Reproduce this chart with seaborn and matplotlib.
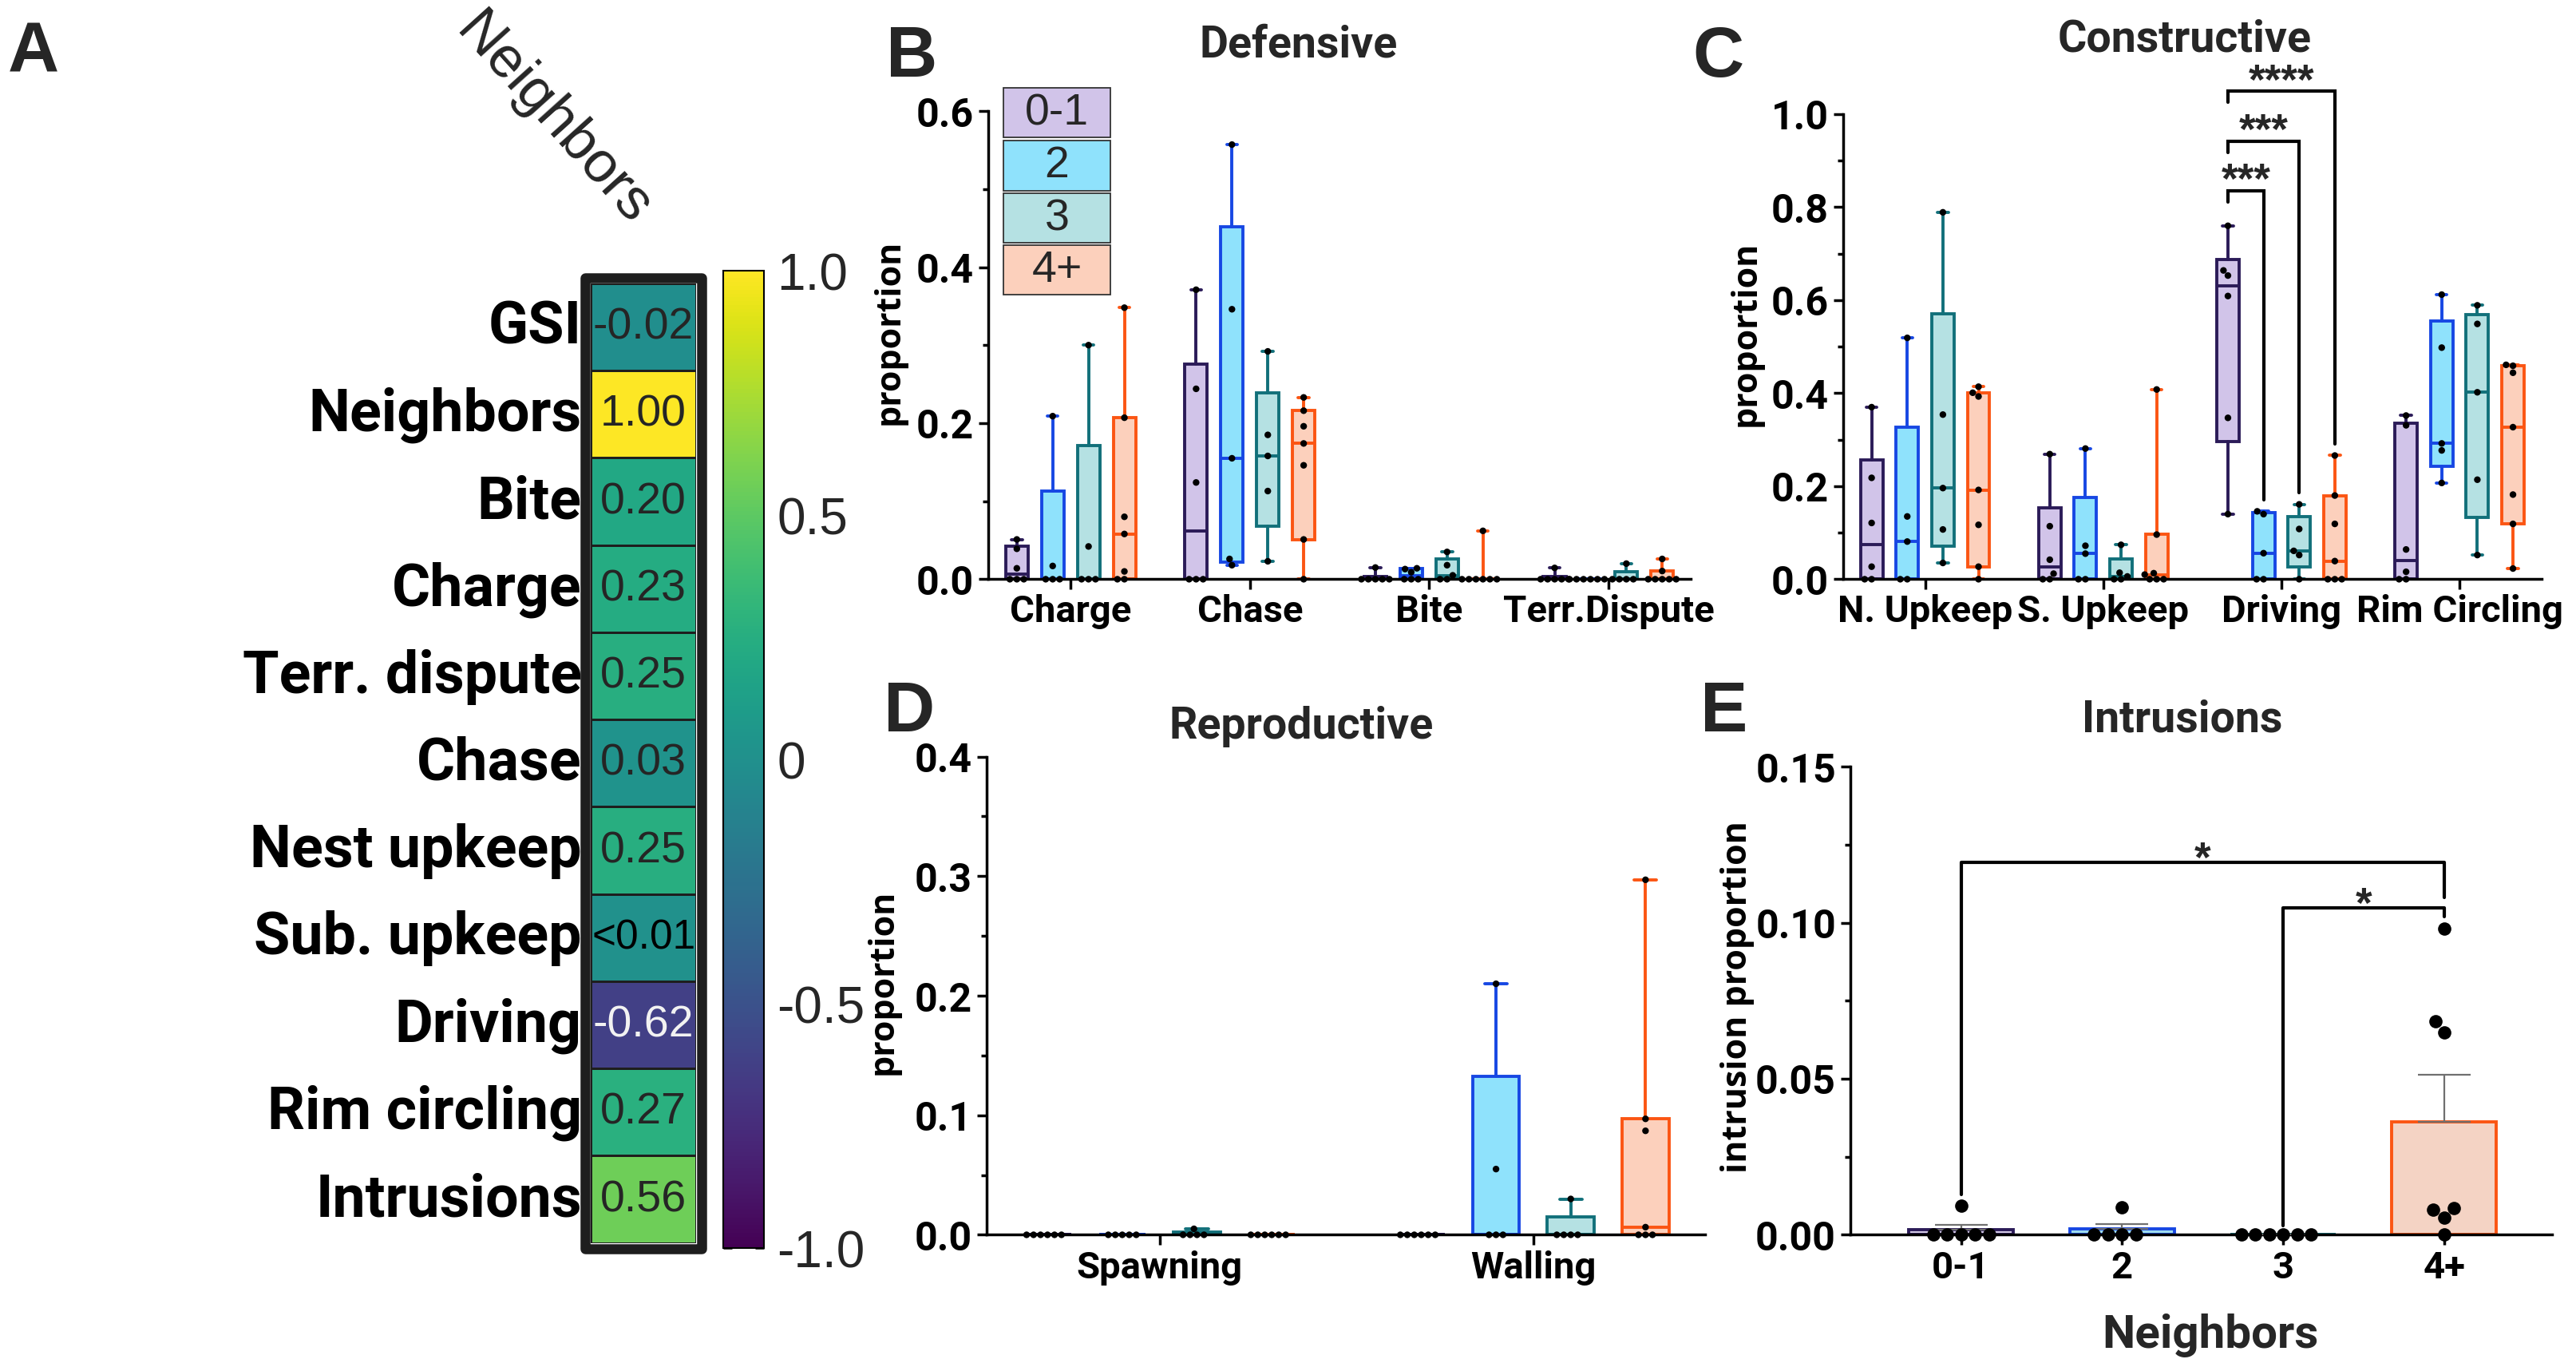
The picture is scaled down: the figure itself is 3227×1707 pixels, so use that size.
import numpy as np
import pandas as pd
import matplotlib
matplotlib.use("Agg")
import matplotlib.pyplot as plt
import seaborn as sns
from matplotlib.patches import Rectangle
from matplotlib.ticker import MultipleLocator, FormatStrFormatter

# SETTINGS
sns.set_theme(style="ticks")
COND = ["Liberation Sans Narrow", "Roboto", "DejaVu Sans"]
PLAIN = ["Liberation Sans", "DejaVu Sans"]
YLAB = ["Open Sans", "DejaVu Sans"]
plt.rcParams["font.family"] = COND

# DATA
groups = ["0-1", "2", "3", "4+"]
edge_colors = ["#2b1b58", "#1747e3", "#12707a", "#fb5513"]
fill_colors = ["#d1c4e9", "#8fe2fc", "#b5e1e3", "#fcd0bc"]

# panel A: correlation with number of neighbors
heat_rows = ["GSI", "Neighbors", "Bite", "Charge", "Terr. dispute", "Chase",
             "Nest upkeep", "Sub. upkeep", "Driving", "Rim circling", "Intrusions"]
heat_vals = [-0.02, 1.00, 0.20, 0.23, 0.25, 0.03, 0.25, 0.005, -0.62, 0.27, 0.56]
heat_text = ["-0.02", "1.00", "0.20", "0.23", "0.25", "0.03", "0.25", "<0.01",
             "-0.62", "0.27", "0.56"]

# panel B: defensive behaviors (one list per neighbor group)
defensive_cats = ["Charge", "Chase", "Bite", "Terr.Dispute"]
charge = [[0, 0, 0, 0.014, 0.039, 0.051], [0, 0, 0, 0.017, 0.209],
          [0, 0, 0, 0.042, 0.300], [0, 0, 0.010, 0.058, 0.080, 0.207, 0.348]]
chase = [[0, 0, 0, 0.124, 0.244, 0.371], [0.018, 0.026, 0.155, 0.346, 0.557],
         [0.023, 0.113, 0.158, 0.185, 0.292], [0, 0.051, 0.146, 0.174, 0.196, 0.216, 0.233]]
bite = [[0, 0, 0, 0, 0, 0.015], [0, 0, 0, 0.009, 0.013, 0.014],
        [0, 0, 0.005, 0.018, 0.035], [0, 0, 0, 0, 0, 0, 0.062]]
terr_dispute = [[0, 0, 0, 0, 0, 0.0145], [0, 0, 0, 0, 0, 0],
                [0, 0, 0, 0, 0.020], [0, 0, 0, 0, 0, 0.0105, 0.026]]

# panel C: constructive behaviors
constructive_cats = ["N. Upkeep", "S. Upkeep", "Driving", "Rim Circling"]
n_upkeep = [[0, 0, 0.027, 0.121, 0.218, 0.370], [0, 0, 0.081, 0.135, 0.519],
            [0.035, 0.107, 0.196, 0.354, 0.789], [0, 0.027, 0.117, 0.192, 0.393, 0.401, 0.414]]
s_upkeep = [[0, 0, 0.012, 0.042, 0.114, 0.269], [0, 0, 0.055, 0.072, 0.281],
            [0, 0, 0.006, 0.014, 0.074], [0, 0, 0, 0.010, 0.013, 0.096, 0.408]]
driving = [[0.140, 0.347, 0.609, 0.653, 0.664, 0.760], [0, 0, 0.056, 0.140, 0.146],
           [0, 0.052, 0.061, 0.108, 0.161], [0, 0, 0, 0.039, 0.119, 0.180, 0.266]]
rim_circling = [[0, 0, 0.016, 0.064, 0.331, 0.352], [0.207, 0.277, 0.292, 0.498, 0.612],
                [0.052, 0.214, 0.402, 0.549, 0.589], [0.023, 0.119, 0.182, 0.327, 0.444, 0.459, 0.461]]
driving_stars = ["***", "***", "****"]

# panel D: reproductive behaviors
reproductive_cats = ["Spawning", "Walling"]
spawning = [[0, 0, 0, 0, 0, 0], [0, 0, 0, 0, 0], [0, 0, 0, 0, 0.005], [0, 0, 0, 0, 0, 0]]
walling = [[0, 0, 0, 0, 0, 0], [0, 0, 0, 0.055, 0.210], [0, 0, 0, 0, 0.030],
           [0, 0, 0, 0.0064, 0.087, 0.097, 0.297]]

# panel E: intrusions
intrusions = [[0.0092, 0, 0, 0, 0, 0], [0.0089, 0, 0, 0, 0], [0, 0, 0, 0, 0, 0],
              [0.0982, 0.0683, 0.0649, 0.0086, 0.008, 0.0055, 0]]


def to_long(cats, series):
    rows = []
    for cat, per_group in zip(cats, series):
        for g, vals in zip(groups, per_group):
            for v in vals:
                rows.append((cat, g, v))
    return pd.DataFrame(rows, columns=["behavior", "neighbors", "proportion"])


def style_axis(ax, ymax, major, minor, ylabel, label_x, label_y=0.53):
    sns.despine(ax=ax)
    for s in ["left", "bottom"]:
        ax.spines[s].set_linewidth(2.5)
        ax.spines[s].set_color("black")
    ax.set_ylim(0, ymax)
    ax.yaxis.set_major_locator(MultipleLocator(major))
    ax.yaxis.set_minor_locator(MultipleLocator(minor))
    ax.tick_params(axis="both", which="major", width=2.5, length=9, pad=4,
                   color="black", labelcolor="black")
    ax.tick_params(axis="y", which="major", labelsize=36)
    ax.tick_params(axis="x", which="major", labelsize=34)
    ax.tick_params(axis="y", which="minor", width=2.5, length=5, color="black", left=True)
    for lab in ax.get_xticklabels() + ax.get_yticklabels():
        lab.set_fontweight("bold")
    ax.set_ylabel(ylabel, fontsize=31, fontweight="bold", family=YLAB, color="black")
    ax.yaxis.set_label_coords(label_x, label_y)
    ax.set_xlabel("")


def box_panel(ax, cats, series):
    df = to_long(cats, series)
    for h, g in enumerate(groups):
        stats = []
        for per_group in series:
            v = np.array(per_group[h], dtype=float)
            q1, med, q3 = np.percentile(v, [25, 50, 75], method="weibull")
            stats.append(dict(med=med, q1=q1, q3=q3, whislo=v.min(), whishi=v.max(), fliers=[]))
        pos = np.arange(len(cats)) + (h - 1.5) * 0.2
        lp = dict(color=edge_colors[h], linewidth=2.8)
        ax.bxp(stats, positions=pos, widths=0.125, capwidths=0.06, patch_artist=True,
               showfliers=False, manage_ticks=False,
               boxprops=dict(facecolor=fill_colors[h], edgecolor=edge_colors[h], linewidth=2.8),
               medianprops=lp, whiskerprops=lp, capprops=lp)
    sns.swarmplot(data=df, x="behavior", y="proportion", hue="neighbors", order=cats,
                  hue_order=groups, dodge=True, palette=["black"] * 4, size=6,
                  legend=False, ax=ax, zorder=5, clip_on=False, warn_thresh=1)
    ax.set_xlim(-0.46, len(cats) - 1 + 0.46)
    ax.set_xticks(range(len(cats)))
    ax.set_xticklabels(cats)
    return df


def stars(ax, x, y, txt):
    ax.text(x, y, txt, ha="center", va="baseline", fontsize=38, fontweight="bold",
            family=PLAIN, clip_on=False)


fig = plt.figure(figsize=(32.27, 17.08), dpi=100)

# PANEL A - heatmap
axA = fig.add_axes([0.2293, 0.088, 0.041, 0.7036])
cax = fig.add_axes([0.2807, 0.0843, 0.0158, 0.7167])
heat_df = pd.DataFrame({"Neighbors": heat_vals}, index=heat_rows)
sns.heatmap(heat_df, ax=axA, cbar_ax=cax, cmap="viridis", vmin=-1, vmax=1,
            annot=np.array(heat_text).reshape(-1, 1), fmt="",
            annot_kws=dict(fontsize=40, color="#252525", family=PLAIN),
            linewidths=2, linecolor="#1e1e1e", xticklabels=False)
axA.set_ylabel("")
axA.tick_params(left=False, pad=2)
axA.set_yticklabels(heat_rows, rotation=0, fontsize=53, fontweight="bold", color="black")
for t in axA.texts:
    if t.get_text() == "-0.62":
        t.set_color("#f2f2f2")
    if t.get_text() == "<0.01":
        t.set_color("black")
        t.set_fontsize(37)
fig.add_artist(Rectangle((0.2271, 0.0838), 0.0453, 0.712, transform=fig.transFigure,
                         fill=False, lw=9, ec="#1e1e1e", joinstyle="round", zorder=10))
cbar = axA.collections[0].colorbar
cbar.set_ticks([-1, -0.5, 0, 0.5, 1])
cbar.set_ticklabels(["-1.0", "-0.5", "0", "0.5", "1.0"])
cax.tick_params(labelsize=46, direction="in", length=8, width=2, left=True, right=True, pad=12)
for lab in cax.get_yticklabels():
    lab.set_family(PLAIN)
cbar.outline.set_linewidth(1.5)
cbar.outline.set_edgecolor("black")
fig.text(0.2145, 0.912, "Neighbors", rotation=-48, ha="center", va="center",
         fontsize=52, family=PLAIN, rotation_mode="anchor")

# PANEL B - defensive
axB = fig.add_axes([0.3836, 0.5747, 0.2728, 0.3433])
box_panel(axB, defensive_cats, [charge, chase, bite, terr_dispute])
style_axis(axB, 0.6, 0.2, 0.1, "proportion", -0.116)
# legend drawn as labelled boxes
leg_y = [(0.943, 1.05), (0.830, 0.937), (0.719, 0.824), (0.607, 0.713)]
for g, fc, (y0, y1) in zip(groups, fill_colors, leg_y):
    axB.add_patch(Rectangle((0.0215, y0), 0.1525, y1 - y0, transform=axB.transAxes,
                            fc=fc, ec="#333333", lw=1.3, clip_on=False, zorder=6))
    axB.text(0.0978, (y0 + y1) / 2, g, transform=axB.transAxes, ha="center", va="center",
             fontsize=40, family=PLAIN, zorder=7)

# PANEL C - constructive
axC = fig.add_axes([0.7155, 0.5747, 0.2711, 0.341])
box_panel(axC, constructive_cats, [n_upkeep, s_upkeep, driving, rim_circling])
style_axis(axC, 1.0, 0.2, 0.1, "proportion", -0.115)
drv = constructive_cats.index("Driving")
left_x = drv - 0.3
bracket_top = [0.835, 0.942, 1.049]
right_bottom = [0.171, 0.186, 0.291]
for k, (top, rb, st) in enumerate(zip(bracket_top, right_bottom, driving_stars)):
    right_x = drv + (k + 1 - 1.5) * 0.2
    axC.plot([left_x, left_x, right_x, right_x], [top - 0.024, top, top, rb],
             color="black", lw=3, clip_on=False, solid_joinstyle="miter")
    stars(axC, (left_x + right_x) / 2, top - 0.004, st)

# PANEL D - reproductive
axD = fig.add_axes([0.383, 0.094, 0.279, 0.3506])
box_panel(axD, reproductive_cats, [spawning, walling])
axD.set_xlim(-0.463, 1.46)
style_axis(axD, 0.4, 0.1, 0.05, "proportion", -0.12)

# PANEL E - intrusions
axE = fig.add_axes([0.7183, 0.094, 0.2724, 0.3433])
df_e = to_long(["Intrusions"], [intrusions])
sns.barplot(data=df_e, x="neighbors", y="proportion", hue="neighbors", order=groups,
            hue_order=groups, palette=fill_colors, errorbar=None, width=0.65,
            legend=False, ax=axE, linewidth=2.8)
for patch, ec in zip(axE.patches, edge_colors):
    patch.set_edgecolor(ec)
means = np.array([np.mean(v) for v in intrusions])
sems = np.array([np.std(v, ddof=1) / np.sqrt(len(v)) for v in intrusions])
axE.errorbar(range(4), means, yerr=[np.zeros(4), sems], fmt="none", ecolor="#707070",
             elinewidth=1.6, capsize=24, capthick=1.6, zorder=4)
sns.swarmplot(data=df_e, x="neighbors", y="proportion", order=groups, color="black",
              size=12, ax=axE, zorder=5, clip_on=False, warn_thresh=1)
axE.set_xlim(-0.687, 3.67)
style_axis(axE, 0.15, 0.05, 0.025, "intrusion proportion", -0.137, 0.51)
axE.yaxis.set_major_formatter(FormatStrFormatter("%.2f"))
for lab in axE.get_yticklabels():
    lab.set_fontweight("bold")
# significance brackets
axE.plot([0, 0, 3, 3], [0.0128, 0.1194, 0.1194, 0.108], color="black", lw=3, clip_on=False)
stars(axE, 1.5, 0.1165, "*")
axE.plot([2, 2, 3, 3], [0.003, 0.1048, 0.1048, 0.102], color="black", lw=3, clip_on=False)
stars(axE, 2.5, 0.1019, "*")
fig.text(0.858, 0.0205, "Neighbors", ha="center", va="center", fontsize=42, fontweight="bold")

# TITLES AND PANEL LETTERS
titles = [("Defensive", 0.504, 0.967), ("Constructive", 0.848, 0.971),
          ("Reproductive", 0.505, 0.4675), ("Intrusions", 0.847, 0.4723)]
for txt, x, y in titles:
    fig.text(x, y, txt, ha="center", va="center", fontsize=40, fontweight="bold")
letters = [("A", 0.003, 0.985), ("B", 0.344, 0.982), ("C", 0.657, 0.982),
           ("D", 0.343, 0.502), ("E", 0.66, 0.502)]
for txt, x, y in letters:
    fig.text(x, y, txt, ha="left", va="top", fontsize=64, fontweight="bold", family=PLAIN)

fig.savefig("out.png", dpi=100, facecolor="white")
